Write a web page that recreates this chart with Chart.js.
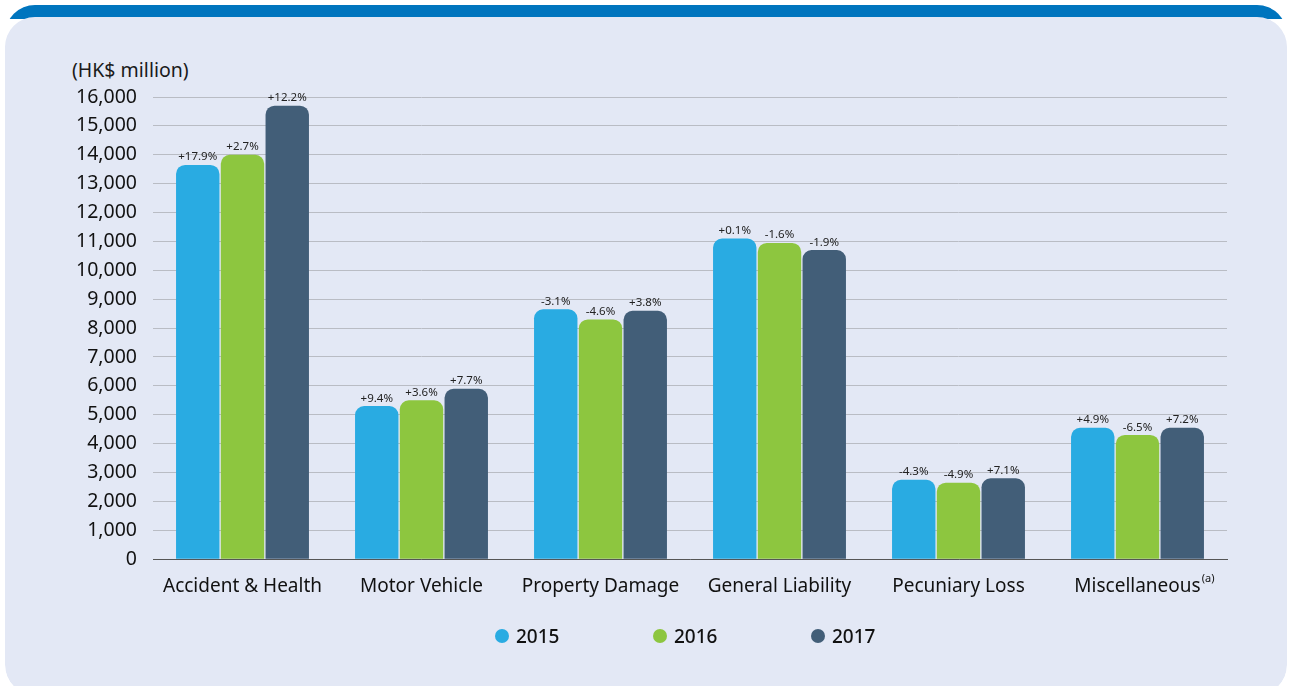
<!DOCTYPE html>
<html>
<head>
<meta charset="utf-8">
<script src="https://cdn.jsdelivr.net/npm/chart.js@4/dist/chart.umd.min.js"></script>
<style>
  body { margin: 0; background: #ffffff; font-family: "Noto Sans", sans-serif; }
  #card { position: absolute; left: 5px; top: 5px; width: 1282px; height: 690px; border-radius: 30px; overflow: hidden; }
  #band { position: absolute; left: 0; top: 0; width: 100%; height: 14px; background: #0075be; }
  #panel { position: absolute; left: 0; top: 12px; width: 100%; height: 678px; background: #e3e8f5; border-radius: 30px; }
  #unit { position: absolute; left: 72px; top: 56px; font-size: 19.5px; color: #1a1a1a; }
  #wrap { position: absolute; left: 0; top: 0; width: 1290px; height: 686px; }
  #legend { position: absolute; top: 622px; left: 0; height: 28px; }
  .item { position: absolute; top: 0; display: flex; align-items: center; height: 28px; font-size: 19px; font-weight: 500; color: #111; white-space: nowrap; }
  .dot { width: 14px; height: 14px; border-radius: 50%; margin-right: 7px; }
</style>
</head>
<body>
<div id="card"><div id="band"></div><div id="panel"></div></div>
<div id="unit">(HK$ million)</div>
<div id="wrap"><canvas id="chartContainer" width="1290" height="686"></canvas></div>
<div id="legend"></div>
<script>
  // categories and values (HK$ million)
  let lines = ['Accident & Health', 'Motor Vehicle', 'Property Damage', 'General Liability', 'Pecuniary Loss', 'Miscellaneous'];
  let years = ['2015', '2016', '2017'];
  let premiums2015 = [13650, 5300, 8650, 11100, 2750, 4550];
  let premiums2016 = [14000, 5500, 8300, 10950, 2650, 4300];
  let premiums2017 = [15700, 5900, 8600, 10700, 2800, 4550];
  let growth2015 = ['+17.9%', '+9.4%', '-3.1%', '+0.1%', '-4.3%', '+4.9%'];
  let growth2016 = ['+2.7%', '+3.6%', '-4.6%', '-1.6%', '-4.9%', '-6.5%'];
  let growth2017 = ['+12.2%', '+7.7%', '+3.8%', '-1.9%', '+7.1%', '+7.2%'];
  let colors = ['#29abe2', '#8dc63f', '#425e78'];
  let footnote = '(a)';

  let growthLabels = [growth2015, growth2016, growth2017];
  const tickFont = { family: 'Noto Sans', size: 19 };

  // little plugin that writes the growth % above each bar + the (a) mark
  const growthPlugin = {
    id: 'growthLabels',
    afterDatasetsDraw(chart) {
      const ctx = chart.ctx;
      ctx.save();
      ctx.font = '11.5px "Noto Sans"';
      ctx.fillStyle = '#222';
      ctx.textAlign = 'center';
      ctx.textBaseline = 'bottom';
      chart.data.datasets.forEach((ds, i) => {
        chart.getDatasetMeta(i).data.forEach((bar, j) => {
          ctx.fillText(growthLabels[i][j], bar.x, bar.y - 2);
        });
      });
      // superscript footnote after the last category label
      const x = chart.scales.x;
      const last = lines.length - 1;
      ctx.font = tickFont.size + 'px "Noto Sans"';
      const w = ctx.measureText(lines[last]).width;
      ctx.font = '11px "Noto Sans"';
      ctx.fillStyle = '#111';
      ctx.textAlign = 'left';
      ctx.textBaseline = 'top';
      ctx.fillText(footnote, x.getPixelForTick(last) + w / 2 + 1, x.top + 14);
      ctx.restore();
    }
  };

  let chart = new Chart(document.getElementById('chartContainer'), {
    type: 'bar',
    data: {
      labels: lines,
      datasets: [premiums2015, premiums2016, premiums2017].map((d, i) => ({
        label: years[i],
        data: d,
        backgroundColor: colors[i],
        borderRadius: { topLeft: 9, topRight: 9 },
        borderSkipped: 'bottom',
        categoryPercentage: 0.75,
        barPercentage: 0.97
      }))
    },
    options: {
      responsive: false,
      animation: false,
      devicePixelRatio: 1,
      layout: { padding: { left: 0, right: 63, top: 97, bottom: 80 } },
      plugins: {
        legend: { display: false },
        tooltip: { enabled: false }
      },
      scales: {
        x: {
          grid: { display: false },
          border: { color: '#555', width: 1 },
          ticks: { color: '#111', font: tickFont, padding: 8 }
        },
        y: {
          min: 0,
          max: 16000,
          afterFit(scale) { scale.width = 153; },
          border: { display: false },
          grid: { color: '#b9bcc4', drawTicks: false },
          ticks: {
            stepSize: 1000,
            autoSkip: false,
            padding: 16,
            color: '#111',
            font: { family: 'Noto Sans', size: 19.5 },
            callback: v => v.toLocaleString('en-US')
          }
        }
      }
    },
    plugins: [growthPlugin]
  });

  // simple html legend, spaced like the original
  let legendX = [495, 653, 811];
  let legend = document.getElementById('legend');
  years.forEach((y, i) => {
    let item = document.createElement('div');
    item.className = 'item';
    item.style.left = legendX[i] + 'px';
    item.innerHTML = '<span class="dot" style="background:' + colors[i] + '"></span>' + y;
    legend.appendChild(item);
  });
</script>
</body>
</html>
